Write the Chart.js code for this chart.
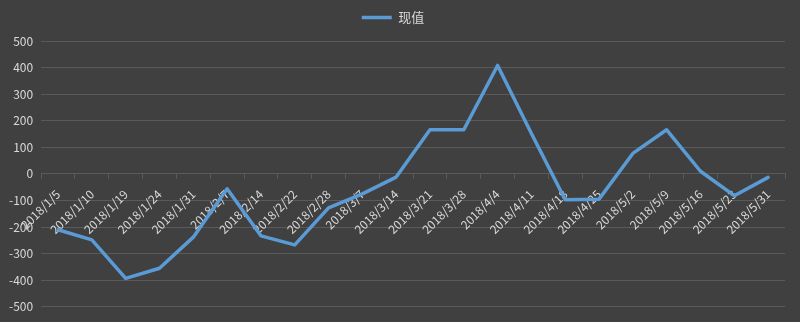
<!DOCTYPE html>
<html>
<head>
<meta charset="utf-8">
<script src="https://cdn.jsdelivr.net/npm/chart.js@4"></script>
<style>
    html, body { margin: 0; padding: 0; background: #404040; }
    #wrap { width: 800px; height: 322px; position: relative; }
</style>
</head>
<body>
<div id="wrap"><canvas id="value-chart"></canvas></div>
<script>
// categories (dates) and series
const dates = [
    '2018/1/5', '2018/1/10', '2018/1/19', '2018/1/24', '2018/1/31', '2018/2/7',
    '2018/2/14', '2018/2/22', '2018/2/28', '2018/3/7', '2018/3/14', '2018/3/21',
    '2018/3/28', '2018/4/4', '2018/4/11', '2018/4/18', '2018/4/25', '2018/5/2',
    '2018/5/9', '2018/5/16', '2018/5/23', '2018/5/31'
];
const seriesName = '现值';
const presentValues = [
    -210, -248, -393, -355, -238, -56,
    -233, -267, -128, -75, -12, 166,
    166, 408, 152, -97, -95, 77,
    166, 10, -82, -13
];
const yMin = -500;
const yMax = 500;
const yStep = 100;

const textColor = '#d9d9d9';
const gridColor = '#5a5a5a';
const lineColor = '#5b9bd5';
const fontFamily = '"Noto Sans CJK SC", "Noto Sans", sans-serif';

// leave a little room under the legend, like the original
const legendGap = {
    id: 'legendGap',
    beforeInit(chart) {
        const fit = chart.legend.fit;
        chart.legend.fit = function () {
            fit.bind(chart.legend)();
            this.height += 7;
        };
    }
};

const chartEl = document.getElementById('value-chart');
new Chart(chartEl, {
    type: 'line',
    data: {
        labels: dates,
        datasets: [
            {
                label: seriesName,
                data: presentValues,
                borderColor: lineColor,
                backgroundColor: lineColor,
                borderWidth: 3.5,
                borderJoinStyle: 'round',
                borderCapStyle: 'round',
                pointRadius: 0,
                pointHoverRadius: 0,
                tension: 0,
                fill: false
            }
        ]
    },
    plugins: [legendGap],
    options: {
        responsive: true,
        maintainAspectRatio: false,
        animation: false,
        layout: {
            padding: { left: 1, right: 15, top: 1, bottom: 8 }
        },
        plugins: {
            legend: {
                position: 'top',
                labels: {
                    color: textColor,
                    font: { family: fontFamily, size: 13 },
                    usePointStyle: true,
                    pointStyle: 'line',
                    pointStyleWidth: 30,
                    boxHeight: 13,
                    padding: 10
                }
            },
            tooltip: { enabled: false }
        },
        scales: {
            x: {
                type: 'category',
                position: { y: 0 },
                offset: true,
                grid: {
                    offset: true,
                    drawOnChartArea: false,
                    drawTicks: true,
                    tickLength: 5,
                    color: gridColor
                },
                border: { display: true, color: gridColor, width: 1 },
                ticks: {
                    color: textColor,
                    font: { family: fontFamily, size: 12 },
                    autoSkip: false,
                    minRotation: 45,
                    maxRotation: 45,
                    padding: 8
                }
            },
            y: {
                min: yMin,
                max: yMax,
                grid: {
                    color: gridColor,
                    drawTicks: false
                },
                border: { display: false },
                ticks: {
                    stepSize: yStep,
                    color: textColor,
                    font: { family: fontFamily, size: 12 },
                    padding: 8
                }
            }
        }
    }
});
</script>
</body>
</html>
